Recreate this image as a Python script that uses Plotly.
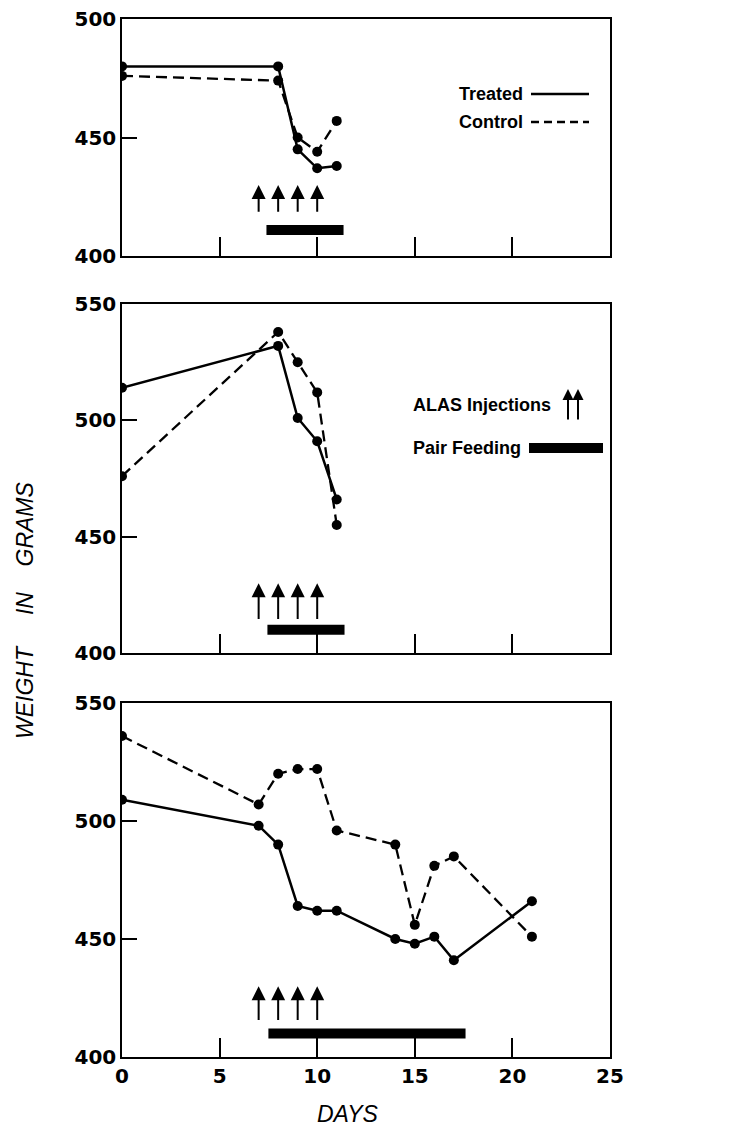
import plotly.graph_objects as go

# ---------------- data ----------------
# Panel 1
p1_t_days = [0, 8, 9, 10, 11]
p1_t_wt = [480, 480, 445, 437, 438]
p1_c_days = [0, 8, 9, 10, 11]
p1_c_wt = [476, 474, 450, 444, 457]

# Panel 2
p2_t_days = [0, 8, 9, 10, 11]
p2_t_wt = [514, 532, 501, 491, 466]
p2_c_days = [0, 8, 9, 10, 11]
p2_c_wt = [476, 538, 525, 512, 455]

# Panel 3
p3_t_days = [0, 7, 8, 9, 10, 11, 14, 15, 16, 17, 21]
p3_t_wt = [509, 498, 490, 464, 462, 462, 450, 448, 451, 441, 466]
p3_c_days = [0, 7, 8, 9, 10, 11, 14, 15, 16, 17, 21]
p3_c_wt = [536, 507, 520, 522, 522, 496, 490, 456, 481, 485, 451]

# ALAS injection days (arrows) and pair-feeding periods
injection_days = [7, 8, 9, 10]
arrow_tip = [430, 430, 430]
arrow_base = [418, 414, 415]
feed_start = [7.4, 7.45, 7.5]
feed_end = [11.35, 11.4, 17.6]
feed_level = [411, 410, 410]

y_ranges = [[400, 500], [400, 550], [400, 550]]
y_ticks = [[400, 450, 500], [400, 450, 500, 550], [400, 450, 500, 550]]
x_ticks = [0, 5, 10, 15, 20, 25]

panels = [
    (p1_t_days, p1_t_wt, p1_c_days, p1_c_wt),
    (p2_t_days, p2_t_wt, p2_c_days, p2_c_wt),
    (p3_t_days, p3_t_wt, p3_c_days, p3_c_wt),
]

# ---------------- figure ----------------
# the page body has an 8px margin; compensate so the picture lands on target
OFF = 8
W, H = 735 - 2 * OFF, 1135 - 2 * OFF
ML, MT = 122 - OFF, 19 - OFF
PW, PH = 488, 1038
MR = W - ML - PW
MB = H - MT - PH


def px_x(p):
    return (p - OFF - ML) / PW


def px_y(p):
    return (MT + PH - (p - OFF)) / PH


domains = [
    [px_y(256), 1.0],
    [px_y(653), px_y(304)],
    [0.0, px_y(703)],
]

fig = go.Figure()
tickfont = dict(family="DejaVu Sans", size=20, color="black", weight="bold")

for i, (td, tw, cd, cw) in enumerate(panels):
    n = "" if i == 0 else str(i + 1)
    xa, ya = "x" + n, "y" + n
    # control (dashed)
    fig.add_trace(go.Scatter(
        x=cd, y=cw, xaxis=xa, yaxis=ya, mode="lines+markers",
        line=dict(color="black", width=2.3, dash="11px,6px"),
        marker=dict(color="black", size=10), showlegend=False, name="Control"))
    # treated (solid)
    fig.add_trace(go.Scatter(
        x=td, y=tw, xaxis=xa, yaxis=ya, mode="lines+markers",
        line=dict(color="black", width=2.5),
        marker=dict(color="black", size=10), showlegend=False, name="Treated"))
    # pair-feeding bar
    fig.add_trace(go.Scatter(
        x=[feed_start[i], feed_end[i]], y=[feed_level[i], feed_level[i]],
        xaxis=xa, yaxis=ya, mode="lines",
        line=dict(color="black", width=10), showlegend=False, hoverinfo="skip"))
    # injection arrows
    for d in injection_days:
        fig.add_annotation(
            x=d, y=arrow_tip[i], ax=d, ay=arrow_base[i],
            xref=xa, yref=ya, axref=xa, ayref=ya,
            showarrow=True, arrowhead=2, arrowsize=1.4, arrowwidth=2,
            arrowcolor="black", standoff=0, startstandoff=0, text="")

    xkey = "xaxis" + n
    ykey = "yaxis" + n
    fig.layout[xkey] = dict(
        domain=[0, 1], anchor=ya, range=[0, 25], tickvals=x_ticks,
        ticks="inside", ticklen=19, tickwidth=1.5, tickcolor="black",
        showline=True, mirror=True, linecolor="black", linewidth=1.5,
        showgrid=False, zeroline=False, showticklabels=(i == 2),
        tickfont=tickfont, fixedrange=True, automargin=False,
        ticklabeloverflow="allow")
    fig.layout[ykey] = dict(
        domain=domains[i], anchor=xa, range=y_ranges[i], tickvals=y_ticks[i],
        ticks="inside", ticklen=15, tickwidth=1.5, tickcolor="black",
        showline=True, mirror=True, linecolor="black", linewidth=1.5,
        showgrid=False, zeroline=False, tickfont=tickfont, fixedrange=True,
        automargin=False, ticklabeloverflow="allow")

legfont = dict(family="Liberation Sans", size=18, color="black", weight="bold")

# Top legend: Treated / Control
fig.add_annotation(x=px_x(525), y=px_y(94), xref="paper", yref="paper",
                   text="Treated", showarrow=False, xanchor="right",
                   yanchor="middle", font=legfont)
fig.add_annotation(x=px_x(525), y=px_y(122), xref="paper", yref="paper",
                   text="Control", showarrow=False, xanchor="right",
                   yanchor="middle", font=legfont)
fig.add_shape(type="line", xref="paper", yref="paper",
              x0=px_x(531), x1=px_x(589), y0=px_y(94), y1=px_y(94),
              line=dict(color="black", width=2.5))
fig.add_shape(type="line", xref="paper", yref="paper",
              x0=px_x(531), x1=px_x(589), y0=px_y(122), y1=px_y(122),
              line=dict(color="black", width=2.3, dash="8px,5px"))

# Middle legend: ALAS injections / pair feeding
fig.add_annotation(x=px_x(411), y=px_y(405), xref="paper", yref="paper",
                   text="ALAS Injections", showarrow=False, xanchor="left",
                   yanchor="middle", font=legfont)
for ax_px in [568, 578]:
    fig.add_annotation(x=px_x(ax_px), y=px_y(389), xref="paper", yref="paper",
                       ax=0, ay=32, showarrow=True, arrowhead=2, arrowsize=1.1,
                       arrowwidth=2, arrowcolor="black", standoff=0, text="")
fig.add_annotation(x=px_x(411), y=px_y(448), xref="paper", yref="paper",
                   text="Pair Feeding", showarrow=False, xanchor="left",
                   yanchor="middle", font=legfont)
fig.add_shape(type="rect", xref="paper", yref="paper",
              x0=px_x(529), x1=px_x(603), y0=px_y(453), y1=px_y(443),
              fillcolor="black", line=dict(width=0))

# Axis titles
titlefont = dict(family="Liberation Sans", size=23, color="black", style="italic")
nb = "\u00a0"
fig.add_annotation(x=px_x(25), y=px_y(610), xref="paper", yref="paper",
                   text="WEIGHT" + nb * 5 + "IN" + nb * 4 + "GRAMS",
                   textangle=-90, showarrow=False, font=titlefont,
                   xanchor="center", yanchor="middle")
fig.add_annotation(x=px_x(348), y=px_y(1114), xref="paper", yref="paper",
                   text="DAYS", showarrow=False, font=titlefont,
                   xanchor="center", yanchor="middle")

fig.update_layout(
    width=W, height=H,
    margin=dict(l=ML, r=MR, t=MT, b=MB, autoexpand=False),
    paper_bgcolor="white", plot_bgcolor="white",
    showlegend=False,
)

fig.write_html("out.html")
